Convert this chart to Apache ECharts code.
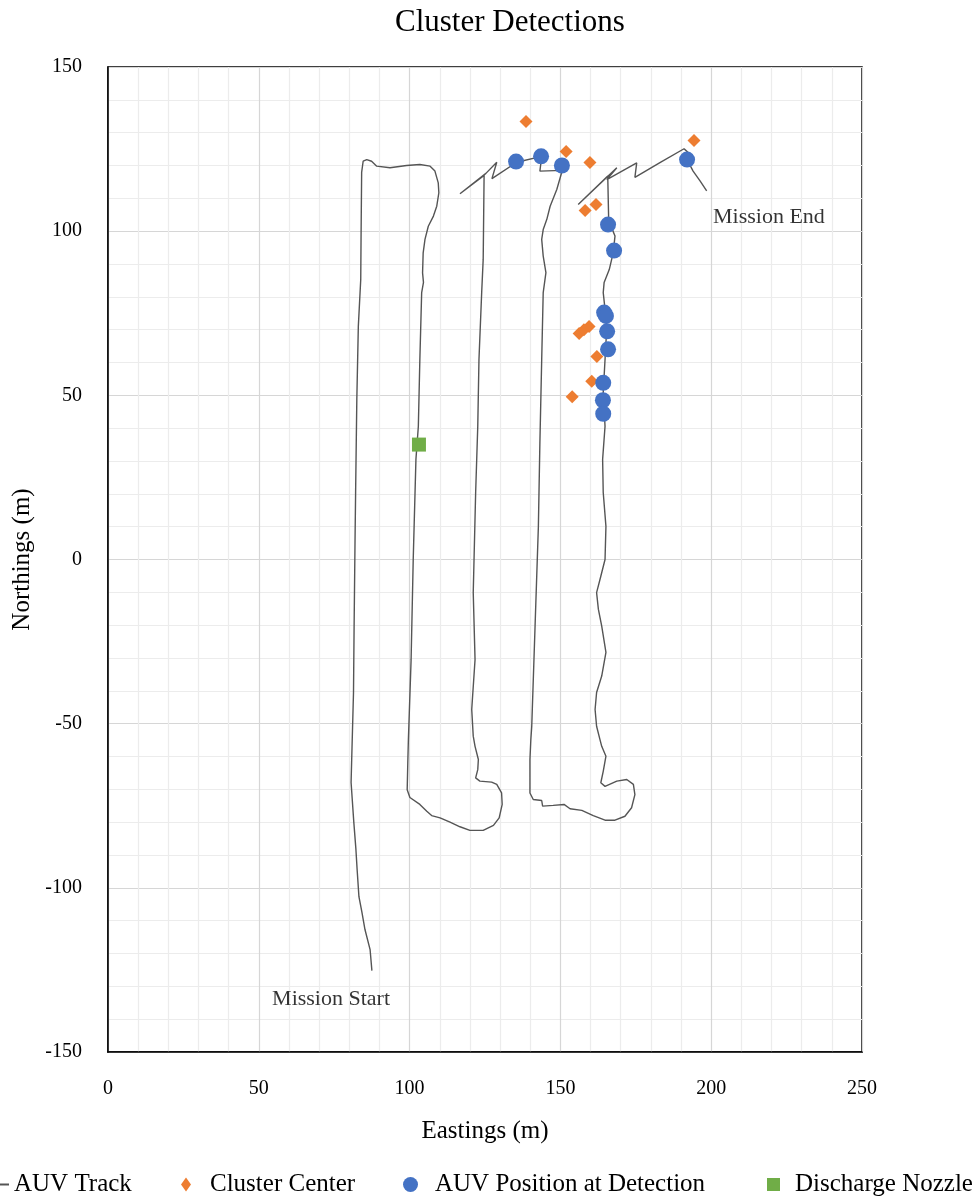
<!DOCTYPE html>
<html>
<head>
<meta charset="utf-8">
<script src="https://cdn.jsdelivr.net/npm/echarts@6/dist/echarts.min.js"></script>
<style>
  html, body { margin: 0; padding: 0; background: #fff; }
  #chart { width: 980px; height: 1196px; }
</style>
</head>
<body>
<div id="chart"></div>
<script>
// AUV survey track in metres [easting, northing]
const auvTrack = [
  [87.5,-125.2],[86.9,-118.8],[85.2,-112.7],[84.2,-107.5],[83.2,-102.7],[82.6,-94.4],[82.2,-88.3],
  [81.5,-80.0],[80.6,-67.9],[80.8,-60.9],[81.4,-40.5],[81.6,-20.4],[81.9,5.2],[82.1,20.4],
  [82.5,48.7],[83.0,71.0],[83.8,85.3],[83.9,97.5],[84.1,117.9],[84.6,121.3],[85.8,121.8],
  [87.4,121.3],[89.1,119.8],[93.5,119.3],[99.0,120.0],[103.4,120.3],[106.8,119.8],[108.4,118.3],
  [109.5,114.7],[109.7,111.7],[109.0,107.6],[107.9,104.6],[106.2,101.5],[105.1,97.5],[104.5,93.4],
  [104.3,87.3],[104.6,84.4],[104.0,81.3],[103.4,60.9],[102.9,40.6],[102.1,30.5],[101.2,0.0],
  [100.5,-30.5],[99.6,-54.8],[99.4,-62.0],[99.2,-70.1],[100.1,-72.5],[103.4,-74.6],[105.7,-76.7],
  [107.3,-78.0],[110.1,-78.7],[113.4,-80.0],[116.7,-81.4],[120.0,-82.5],[124.4,-82.5],[127.8,-81.0],
  [129.7,-78.7],[130.7,-74.6],[130.5,-71.1],[128.9,-68.5],[127.2,-67.8],[123.3,-67.5],[121.9,-66.5],
  [122.6,-64.0],[122.8,-60.9],[121.7,-56.9],[121.1,-53.8],[120.6,-45.7],[121.7,-30.5],[121.1,-10.1],
  [121.9,20.4],[122.6,40.6],[123.0,60.9],[123.9,81.3],[124.4,91.4],[124.7,117.0],[116.7,111.4],
  [125.3,117.6],[128.9,121.0],[127.3,116.0],[135.5,121.0],[143.8,122.8],[143.2,118.3],[150.5,118.5],
  [151.2,119.4],[150.4,117.8],[148.8,112.7],[146.6,107.6],[145.5,103.6],[144.3,100.5],[143.8,97.5],
  [144.3,92.4],[145.2,87.4],[144.3,81.3],[143.8,60.9],[143.2,35.6],[142.7,10.1],[141.6,-20.3],
  [140.5,-50.8],[140.2,-54.8],[139.9,-60.9],[139.9,-71.1],[141.0,-73.1],[143.8,-73.4],[144.1,-75.1],
  [147.6,-74.9],[151.2,-74.6],[153.2,-75.9],[157.1,-76.4],[160.9,-78.0],[164.8,-79.4],[168.1,-79.4],
  [171.4,-78.2],[173.6,-75.6],[174.7,-71.6],[174.2,-68.5],[172.0,-67.0],[168.7,-67.5],[164.8,-69.1],
  [163.4,-68.0],[164.2,-64.5],[165.1,-59.9],[163.7,-56.9],[163.1,-54.8],[162.0,-50.8],[161.5,-45.7],
  [162.0,-40.5],[163.7,-35.5],[165.1,-28.3],[163.7,-20.3],[162.6,-15.2],[162.0,-10.1],[163.4,-5.1],
  [164.8,0.0],[165.1,10.1],[164.2,20.4],[164.0,30.5],[164.8,40.6],[164.2,50.9],[164.8,60.9],
  [165.4,71.1],[164.2,81.3],[164.5,84.4],[166.2,88.3],[167.5,93.4],[168.1,98.5],[167.0,101.0],
  [166.0,103.6],[165.7,116.8],[155.9,108.1],[168.7,119.3],[165.4,115.7],[175.3,120.8],[174.7,116.4],
  [183.0,120.9],[191.0,125.1],[192.3,124.0],[192.0,121.8],[194.0,118.3],[196.3,115.3],[198.5,112.3]
];

// Estimated cluster centres
const clusterCenters = [
  [138.6,133.4],[151.9,124.3],[159.8,120.9],[194.3,127.6],[161.8,108.1],[158.2,106.3],
  [156.2,68.8],[157.8,70.0],[159.5,71.0],[162.1,61.8],[160.4,54.3],[153.9,49.6]
];

// Vehicle position at the moment each cluster was detected
const detectionPositions = [
  [135.3,121.2],[143.6,122.8],[150.5,120.0],[192.0,121.8],[165.8,102.0],[167.8,94.1],
  [164.5,75.2],[165.1,74.2],[165.5,69.5],[165.8,64.0],[164.2,53.8],[164.1,48.5],[164.2,44.4]
];

const dischargeNozzle = [[103.1,35.0]];

const annotations = [
  { name: 'Mission End', value: [200.6,104.2] },
  { name: 'Mission Start', value: [54.4,-134.0] }
];

const xTicks = { min: 0, max: 250, step: 50 };
const yTicks = { min: -150, max: 150, step: 50 };

const FONT = "'Liberation Serif', 'DejaVu Serif', serif";
const COLORS = { track: '#555555', cluster: '#ED7D31', detection: '#4472C4', nozzle: '#70AD47' };

const chart = echarts.init(document.getElementById('chart'), null, { renderer: 'canvas' });

const axisCommon = {
  axisLine: { show: true, onZero: false, lineStyle: { color: '#000', width: 1.5 } },
  axisTick: { show: false },
  splitLine: { show: true, lineStyle: { color: '#d6d6d6', width: 1.2 } },
  minorTick: { show: false, splitNumber: 5 },
  minorSplitLine: { show: true, lineStyle: { color: '#ececec', width: 1.2 } },
  nameTextStyle: { color: '#000', fontFamily: FONT, fontSize: 25 },
  nameLocation: 'middle'
};
const labelStyle = { color: '#000', fontFamily: FONT, fontSize: 20 };

// one legend block per entry so each icon keeps its own shape and spacing
const legendText = { fontFamily: FONT, fontSize: 25, color: '#000' };
function legendEntry(name, left, w, h, icon, pad) {
  return {
    data: [{ name: name, icon: icon }],
    left: left, top: 1167,
    itemWidth: w, itemHeight: h,
    selectedMode: false,
    textStyle: Object.assign({}, legendText, { padding: [0, 0, 0, pad] })
  };
}

chart.setOption({
  backgroundColor: '#fff',
  animation: false,
  title: {
    text: 'Cluster Detections',
    left: 390, top: 2,
    textStyle: { fontFamily: FONT, fontSize: 31, fontWeight: 'normal', color: '#000' }
  },
  grid: {
    left: 108, right: 118, top: 67, bottom: 144,
    containLabel: false, outerBoundsMode: 'none',
    show: true, borderColor: '#000', borderWidth: 1.5, backgroundColor: 'transparent'
  },
  xAxis: Object.assign({}, axisCommon, {
    type: 'value', min: xTicks.min, max: xTicks.max, interval: xTicks.step,
    name: 'Eastings (m)', nameGap: 67,
    axisLabel: Object.assign({}, labelStyle, { margin: 27 })
  }),
  yAxis: Object.assign({}, axisCommon, {
    type: 'value', min: yTicks.min, max: yTicks.max, interval: yTicks.step,
    name: 'Northings (m)', nameGap: 72,
    axisLabel: Object.assign({}, labelStyle, { margin: 26 })
  }),
  legend: [
    legendEntry('AUV Track', -26, 30, 2, 'rect', 0),
    legendEntry('Cluster Center', 176, 10, 14, 'diamond', 14),
    legendEntry('AUV Position at Detection', 398, 15, 15, 'circle', 12),
    legendEntry('Discharge Nozzle', 762, 13, 13, 'rect', 10)
  ],
  series: [
    {
      name: 'AUV Track', type: 'line', data: auvTrack, showSymbol: false, symbol: 'none',
      lineStyle: { color: COLORS.track, width: 1.4 }, itemStyle: { color: COLORS.track }, z: 2
    },
    {
      name: 'Cluster Center', type: 'scatter', data: clusterCenters, symbol: 'diamond',
      symbolSize: 13, itemStyle: { color: COLORS.cluster, opacity: 1 }, z: 3
    },
    {
      name: 'AUV Position at Detection', type: 'scatter', data: detectionPositions, symbol: 'circle',
      symbolSize: 16, itemStyle: { color: COLORS.detection, opacity: 1 }, z: 4
    },
    {
      name: 'Discharge Nozzle', type: 'scatter', data: dischargeNozzle, symbol: 'rect',
      symbolSize: 14, itemStyle: { color: COLORS.nozzle, opacity: 1 }, z: 4
    },
    {
      name: 'notes', type: 'scatter', data: annotations, symbolSize: 0, silent: true,
      label: {
        show: true, position: 'right', distance: 0, formatter: p => p.name,
        fontFamily: FONT, fontSize: 22, color: '#000'
      }
    }
  ]
});
</script>
</body>
</html>
